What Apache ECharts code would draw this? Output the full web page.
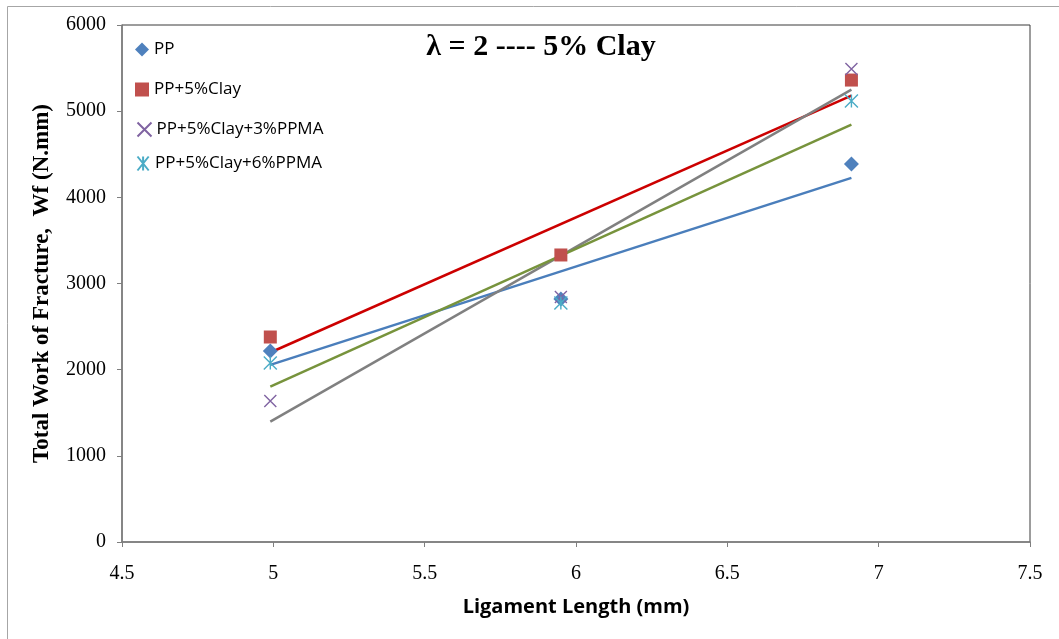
<!DOCTYPE html>
<html>
<head>
<meta charset="utf-8">
<script src="https://cdn.jsdelivr.net/npm/echarts@6/dist/echarts.min.js"></script>
<style>
  html, body { margin: 0; padding: 0; background: #fff; }
  #chart { width: 1059px; height: 639px; }
</style>
</head>
<body>
<div id="chart"></div>
<script>
// Ligament length (mm) for each specimen group
const ligament = [4.99, 5.95, 6.91];

// Total work of fracture Wf (N.mm)
const seriesNames = ['PP', 'PP+5%Clay', 'PP+5%Clay+3%PPMA', 'PP+5%Clay+6%PPMA'];
const wfPP        = [2216, 2820, 4387];
const wfClay      = [2379, 3331, 5361];
const wfClay3PPMA = [1636, 2843, 5489];
const wfClay6PPMA = [2077, 2774, 5118];

const xTicks = [4.5, 5, 5.5, 6, 6.5, 7, 7.5];
const yTicks = [0, 1000, 2000, 3000, 4000, 5000, 6000];

const markerColors = ['#4F81BD', '#C0504D', '#8064A2', '#4BACC6'];
const trendColors  = ['#4A7EBB', '#CC0000', '#808080', '#77933C'];

const serif = '"Liberation Serif", "Times New Roman", serif';
const sans = '"Open Sans", "Liberation Sans", sans-serif';

// Least-squares linear trendline over the measured points
function trendline(xs, ys) {
  const n = xs.length;
  const mx = xs.reduce((a, b) => a + b, 0) / n;
  const my = ys.reduce((a, b) => a + b, 0) / n;
  let sxy = 0, sxx = 0;
  for (let i = 0; i < n; i++) {
    sxy += (xs[i] - mx) * (ys[i] - my);
    sxx += (xs[i] - mx) * (xs[i] - mx);
  }
  const k = sxy / sxx, b = my - k * mx;
  const x0 = xs[0], x1 = xs[n - 1];
  return [[x0, k * x0 + b], [x1, k * x1 + b]];
}

const values = [wfPP, wfClay, wfClay3PPMA, wfClay6PPMA];
const pair = (ys) => ligament.map((x, i) => [x, ys[i]]);

const crossPath = 'path://M0,0L10,10M10,0L0,10';
const starPath = 'path://M1,0L9,10M9,0L1,10M5,0L5,10';

const scatterStyles = [
  { symbol: 'diamond', symbolSize: 15, itemStyle: { color: markerColors[0], opacity: 1 } },
  { symbol: 'rect', symbolSize: 13, itemStyle: { color: markerColors[1], opacity: 1 } },
  { symbol: crossPath, symbolSize: 12, itemStyle: { color: 'none', borderColor: markerColors[2], borderWidth: 1.4, opacity: 1 } },
  { symbol: starPath, symbolSize: 13, itemStyle: { color: 'none', borderColor: markerColors[3], borderWidth: 1.4, opacity: 1 } }
];

const series = [];
// trendlines first so the markers sit on top
values.forEach((ys, i) => {
  series.push({
    name: seriesNames[i] + ' trend',
    type: 'line',
    data: trendline(ligament, ys),
    showSymbol: false,
    silent: true,
    lineStyle: { color: trendColors[i], width: 2.5 },
    z: 2
  });
});
values.forEach((ys, i) => {
  series.push(Object.assign({
    name: seriesNames[i],
    type: 'scatter',
    data: pair(ys),
    z: 3
  }, scatterStyles[i]));
});

const legendTops = [36, 76, 115, 149];
const legends = seriesNames.map((nm, i) => ({
  data: [nm],
  left: 130,
  top: legendTops[i],
  itemWidth: 14,
  itemHeight: 14,
  itemGap: 6,
  textStyle: { fontFamily: sans, fontSize: 17, color: '#000' }
}));

const chart = echarts.init(document.getElementById('chart'), null, { renderer: 'canvas' });
chart.setOption({
  animation: false,
  backgroundColor: '#fff',
  title: {
    text: 'λ = 2 ---- 5% Clay',
    left: 536,
    top: 27,
    textAlign: 'center',
    textStyle: { fontFamily: serif, fontWeight: 'bold', fontSize: 30, color: '#000' }
  },
  legend: legends,
  graphic: [{
    type: 'rect',
    shape: { x: 7.5, y: 6.5, width: 1100, height: 700 },
    style: { fill: 'none', stroke: '#a6a6a6', lineWidth: 1 },
    silent: true
  }],
  grid: {
    left: 122, right: 29, top: 25, bottom: 97,
    show: true,
    borderColor: '#3a3a3a',
    borderWidth: 1
  },
  xAxis: {
    type: 'value',
    min: 4.5, max: 7.5, interval: 0.5,
    name: 'Ligament Length (mm)',
    nameLocation: 'middle',
    nameGap: 55,
    nameTextStyle: { fontFamily: sans, fontWeight: 'bold', fontSize: 20, color: '#000' },
    axisLine: { lineStyle: { color: '#7f7f7f', width: 1.5 } },
    axisTick: { show: true, length: 5, inside: false, lineStyle: { color: '#7f7f7f' } },
    axisLabel: {
      margin: 22,
      fontFamily: serif, fontSize: 20, color: '#000',
      formatter: (v) => String(xTicks.find(t => Math.abs(t - v) < 1e-9) ?? v)
    },
    splitLine: { show: false }
  },
  yAxis: {
    type: 'value',
    min: 0, max: 6000, interval: 1000,
    name: 'Total Work of Fracture,  Wf (N.mm)',
    nameLocation: 'middle',
    nameGap: 68,
    nameTextStyle: { fontFamily: serif, fontWeight: 'bold', fontSize: 23, color: '#000' },
    axisLine: { show: true, lineStyle: { color: '#7f7f7f', width: 1.5 } },
    axisTick: { show: true, length: 5, lineStyle: { color: '#7f7f7f' } },
    axisLabel: {
      margin: 16,
      fontFamily: serif, fontSize: 20, color: '#000',
      formatter: (v) => String(yTicks.find(t => t === v) ?? v)
    },
    splitLine: { show: false }
  },
  series: series
});
</script>
</body>
</html>
